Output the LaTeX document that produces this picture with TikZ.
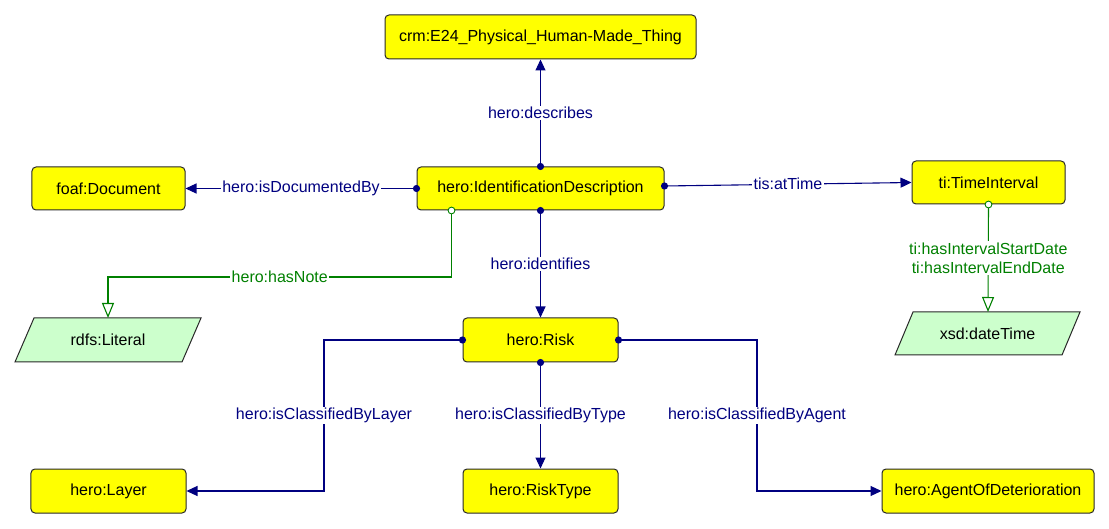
\documentclass[tikz,border=0pt]{standalone}
\usepackage{fontspec}
\setmainfont{Liberation Sans}
\usetikzlibrary{arrows.meta,positioning,calc}
\definecolor{nodeyellow}{RGB}{255,255,0}
\definecolor{litgreen}{RGB}{204,255,204}
\definecolor{navyblue}{RGB}{0,0,128}
\definecolor{darkgreen}{RGB}{0,128,0}
\definecolor{bordergray}{RGB}{40,40,40}
\begin{document}
\begin{tikzpicture}[x=1bp,y=-1bp,
  every node/.style={font=\fontsize{16bp}{19bp}\selectfont},
  classbox/.style={draw=bordergray,line width=1bp,fill=nodeyellow,rounded corners=4bp,inner sep=0pt,minimum height=44bp,text=black},
  litshape/.style={draw=bordergray,line width=1bp,fill=litgreen},
  blueline/.style={draw=navyblue,line width=1.1bp},
  greenline/.style={draw=darkgreen,line width=1.1bp},
  bluetip/.style={-{Triangle[length=11bp,width=10bp]}},
  greentip/.style={-{Triangle[open,length=15bp,width=12bp,fill=white]}},
  bluelabel/.style={fill=white,text=navyblue,inner sep=1.5bp},
  greenlabel/.style={fill=white,text=darkgreen,inner sep=1.5bp,align=center},
  dotmark/.style={fill=navyblue,draw=none},
  ringmark/.style={fill=white,draw=darkgreen,line width=0.9bp}
]
\useasboundingbox (0,0) rectangle (1109,529);
\fill[white] (0,0) rectangle (1109,529);

% class boxes
\node[classbox,minimum width=311bp] (crm) at (540.5,37) {crm:E24\_Physical\_Human-Made\_Thing};
\node[classbox,minimum width=247bp,minimum height=43bp] (idd) at (540.5,188.5) {hero:IdentificationDescription};
\node[classbox,minimum width=153bp,minimum height=43bp] (foaf) at (108.5,188.5) {foaf:Document};
\node[classbox,minimum width=153bp,minimum height=43bp] (ti) at (988.5,182.5) {ti:TimeInterval};
\node[classbox,minimum width=155bp] (risk) at (540.5,340) {hero:Risk};
\node[classbox,minimum width=155bp] (layer) at (108.5,491) {hero:Layer};
\node[classbox,minimum width=155bp] (rtype) at (540.5,491) {hero:RiskType};
\node[classbox,minimum width=212bp] (agent) at (988,491) {hero:AgentOfDeterioration};

% literal parallelograms
\draw[litshape] (34,318) -- (201,318) -- (182,362) -- (15,362) -- cycle;
\node[inner sep=0pt] (lit) at (108,340) {rdfs:Literal};
\coordinate (littop) at (108,318);
\draw[litshape] (913,312) -- (1080,312) -- (1062,355) -- (895,355) -- cycle;
\node[inner sep=0pt] (xsd) at (987.5,333.5) {xsd:dateTime};
\coordinate (xsdtop) at (988,312);

% connectors
\draw[blueline,bluetip] (idd.north) -- node[bluelabel]{hero:describes} (crm.south);
\draw[blueline,bluetip] (idd.west) -- node[bluelabel]{hero:isDocumentedBy} (foaf.east);
\coordinate (attstart) at ($(idd.east)+(0,-2.5)$);
\draw[blueline,bluetip] (attstart) -- node[bluelabel]{tis:atTime} (ti.west);
\draw[blueline,bluetip] (idd.south) -- node[bluelabel]{hero:identifies} (risk.north);

\coordinate (notestart) at ($(idd.south west)+(35,0)$);
\draw[greenline,greentip] (notestart) |- node[pos=0.75,greenlabel]{hero:hasNote} ($(littop)+(0,-41)$) -- (littop);
\coordinate (tistart) at (ti.south);
\draw[greenline,greentip] (tistart) -- node[greenlabel]{ti:hasIntervalStartDate\\ti:hasIntervalEndDate} (xsdtop);

\coordinate (layerbend) at (324,340);
\coordinate (agentbend) at (757,340);
\draw[blueline,bluetip] (risk.west) -- (layerbend) -- node[bluelabel]{hero:isClassifiedByLayer} (layerbend |- layer.east) -- (layer.east);
\draw[blueline,bluetip] (risk.south) -- node[bluelabel]{hero:isClassifiedByType} (rtype.north);
\draw[blueline,bluetip] (risk.east) -- (agentbend) -- node[bluelabel]{hero:isClassifiedByAgent} (agentbend |- agent.west) -- (agent.west);

% end marks
\foreach \p in {idd.north,idd.west,idd.south,risk.west,risk.south,risk.east}
  \fill[dotmark] (\p) circle (3.6bp);
\fill[dotmark] (attstart) circle (3.6bp);
\draw[ringmark] (notestart) circle (3.4bp);
\draw[ringmark] (tistart) circle (3.4bp);
\end{tikzpicture}
\end{document}
